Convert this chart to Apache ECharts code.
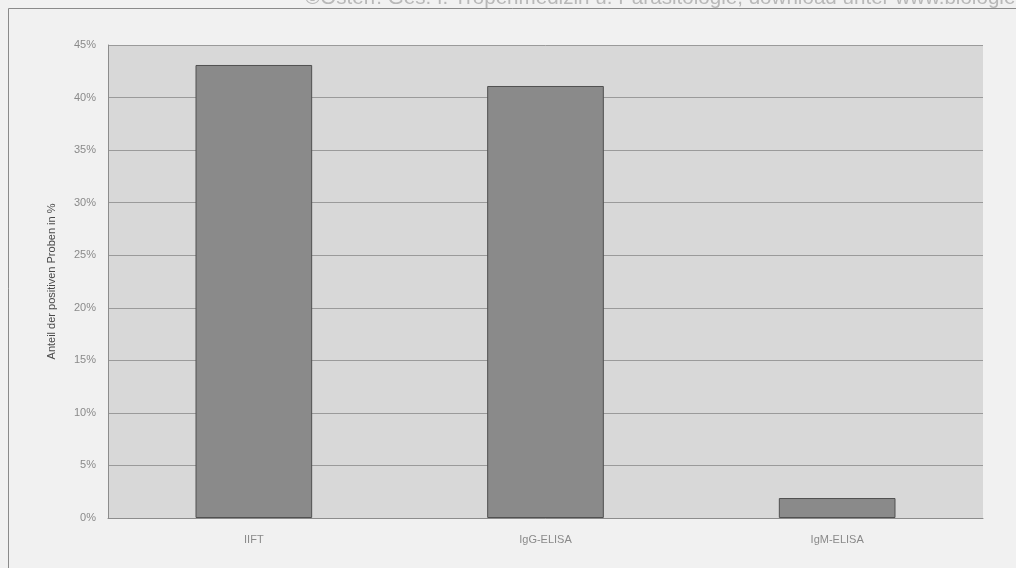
<!DOCTYPE html>
<html>
<head>
<meta charset="UTF-8">
<title></title>
<style>
  body { margin: 0; background: #f1f1f1; }
  #main { width: 1016px; height: 568px; }
</style>
</head>
<body>
<div id="main"></div>
<script src="https://cdn.jsdelivr.net/npm/echarts@6/dist/echarts.min.js"></script>
<script type="text/javascript">
var categories = ['IIFT', 'IgG-ELISA', 'IgM-ELISA'];
var anteilPositiv = [43.1, 41.1, 1.9];
var yTicks = [0, 5, 10, 15, 20, 25, 30, 35, 40, 45];

var myCharts = echarts.init(document.querySelector('#main'));

var option = {
	backgroundColor: '#f1f1f1',
	animation: false,
	grid: { left: 108, right: 33, top: 45, bottom: 50 },
	graphic: [
		// Rahmen
		{ type: 'rect', shape: { x: 8.5, y: 8.5, width: 1020, height: 580 },
		  style: { fill: 'none', stroke: '#8a8a8a', lineWidth: 1 }, silent: true },
		// Wasserzeichen oben
		{ type: 'text', left: 305, top: -12,
		  style: { text: '\u00A9\u00D6sterr. Ges. f. Tropenmedizin u. Parasitologie, download unter www.biologiezentrum.at',
		           fill: '#b8b8b8', font: '20.6px Arial, "Liberation Sans", sans-serif' } }
	],
	xAxis: {
		type: 'category',
		data: categories,
		axisTick: { show: false },
		axisLine: { lineStyle: { color: '#8c8c8c' } },
		axisLabel: { color: '#8a8a8a', fontSize: 11, margin: 16, fontFamily: 'Arial, "Liberation Sans", sans-serif' },
		splitArea: { show: false }
	},
	yAxis: {
		type: 'value',
		min: 0,
		max: 45,
		interval: 5,
		name: 'Anteil der positiven Proben in %',
		nameLocation: 'middle',
		nameGap: 51,
		nameTextStyle: { color: '#4a4a4a', fontSize: 11, fontFamily: 'Arial, "Liberation Sans", sans-serif' },
		axisLine: { show: true, lineStyle: { color: '#8c8c8c' } },
		axisTick: { show: false },
		axisLabel: {
			color: '#8a8a8a', fontSize: 11, margin: 12,
			fontFamily: 'Arial, "Liberation Sans", sans-serif',
			formatter: function (v) { return yTicks.indexOf(v) >= 0 ? v + '%' : ''; }
		},
		splitLine: { lineStyle: { color: '#9a9a9a', width: 1 } },
		splitArea: { show: true, areaStyle: { color: ['#d8d8d8'] } }
	},
	series: [{
		type: 'bar',
		data: anteilPositiv,
		barWidth: '40%',
		itemStyle: { color: '#8a8a8a', borderColor: '#505050', borderWidth: 1 }
	}]
};

myCharts.setOption(option);
</script>
</body>
</html>
